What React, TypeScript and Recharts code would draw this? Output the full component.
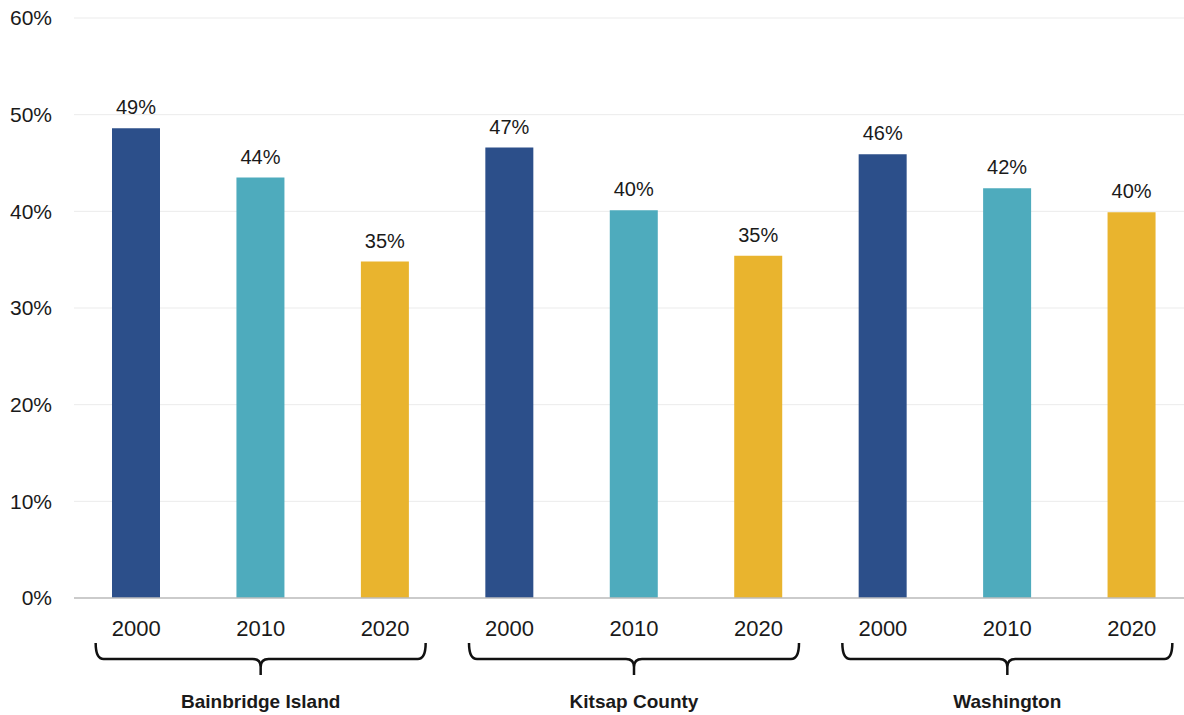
import { BarChart, Bar, XAxis, YAxis, CartesianGrid, Cell, LabelList } from 'recharts';

const groups = ['Bainbridge Island', 'Kitsap County', 'Washington'];
const years = ['2000', '2010', '2020'];
const bainbridge = [48.6, 43.5, 34.8];
const kitsap = [46.6, 40.1, 35.4];
const washington = [45.9, 42.4, 39.9];
const yTicks = [0, 10, 20, 30, 40, 50, 60];
const yearColors = ['#2c4f8a', '#4eabbd', '#e9b42e'];

const seriesByGroup = [bainbridge, kitsap, washington];

const data = groups.flatMap((g, gi) =>
  years.map((y, yi) => ({
    key: `${g}-${y}`,
    group: g,
    year: y,
    value: seriesByGroup[gi][yi],
    color: yearColors[yi],
  }))
);

const FONT = '"Liberation Sans", Arial, sans-serif';

// year label under each bar, plus the brace + group name under the middle bar
function GroupTick(props: any) {
  const { x, y, payload } = props;
  const row = data[payload.index];
  const isMiddle = payload.index % 3 === 1;
  const half = 165;
  const top = y + 45;
  const mid = y + 61;
  const bottom = y + 77;
  const L = x - half;
  const R = x + half;
  return (
    <g>
      <text x={x} y={y + 38} textAnchor="middle" fontSize={22} fill="#1a1a1a" fontFamily={FONT}>
        {row ? row.year : ''}
      </text>
      {isMiddle && (
        <>
          <path
            d={`M${L},${top} Q${L},${mid} ${L + 8},${mid} L${x - 8},${mid} Q${x},${mid} ${x},${mid + 8} L${x},${bottom} M${x},${mid + 8} Q${x},${mid} ${x + 8},${mid} L${R - 8},${mid} Q${R},${mid} ${R},${top}`}
            fill="none"
            stroke="#111"
            strokeWidth={2.5}
          />
          <text x={x} y={y + 110} textAnchor="middle" fontSize={19} fontWeight="bold" fill="#1a1a1a" fontFamily={FONT}>
            {row.group}
          </text>
        </>
      )}
    </g>
  );
}

export default function App() {
  return (
    <div style={{ width: 1184, height: 715, overflow: 'hidden', position: 'absolute', left: 0, top: 0, background: '#fff' }}>
      <BarChart
        width={1194}
        height={715}
        data={data}
        margin={{ top: 18, right: 0, bottom: 0, left: 0 }}
        barCategoryGap={0}
      >
        <CartesianGrid vertical={false} stroke="#ebebeb" />
        <XAxis
          dataKey="key"
          interval={0}
          height={117}
          tickLine={false}
          tickSize={0}
          tickMargin={0}
          axisLine={{ stroke: '#bdbdbd', strokeWidth: 1.5 }}
          tick={<GroupTick />}
        />
        <YAxis
          width={74}
          domain={[0, 60]}
          ticks={yTicks}
          tickFormatter={(v: number) => `${v}%`}
          axisLine={false}
          tickLine={false}
          tickMargin={16}
          tick={{ fontSize: 21, fill: '#1a1a1a', fontFamily: FONT }}
        />
        <Bar dataKey="value" barSize={48} isAnimationActive={false}>
          {data.map((d) => (
            <Cell key={d.key} fill={d.color} />
          ))}
          <LabelList
            dataKey="value"
            position="top"
            offset={14}
            formatter={(v: any) => `${Math.round(Number(v))}%`}
            style={{ fontSize: 20, fill: '#1a1a1a', fontFamily: FONT }}
          />
        </Bar>
      </BarChart>
    </div>
  );
}
